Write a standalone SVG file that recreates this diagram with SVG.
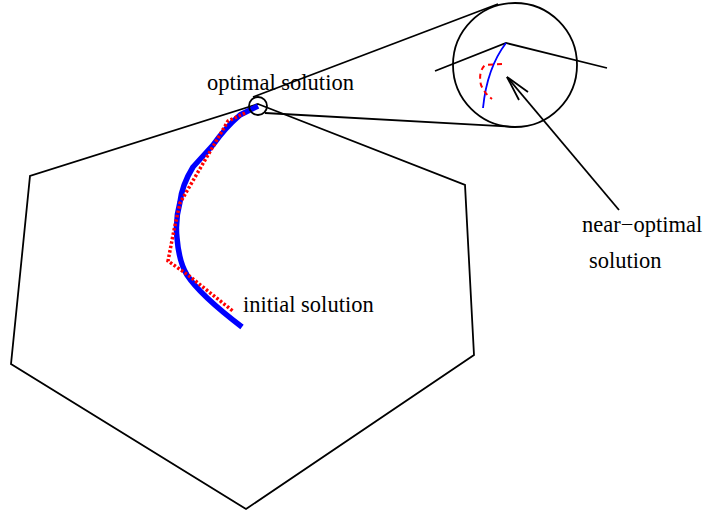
<svg xmlns="http://www.w3.org/2000/svg" width="705" height="515" viewBox="0 0 705 515">
<style>
.k{fill:none;stroke:#000;stroke-width:1.8;stroke-linejoin:miter}
.t{font-family:"Liberation Serif","Times New Roman",serif;font-size:22.5px;fill:#000}
</style>
<rect width="705" height="515" fill="#fff"/>
<g id="polytope">
<polygon class="k" points="258,104 465,185 474,355 246,509 11,364 30,176"/>
</g>
<g id="paths">
<path d="M258,106 L240,115 Q225,128 213,145 L193,167 Q182,185 180,202 Q175,220 177,238 Q179,262 187,275 Q200,295 242,327" fill="none" stroke="#0000ff" stroke-width="5.5" stroke-linejoin="round"/>
<polyline points="245,113 228,121 218,138 198,172 180,203 174,230 168,261 188,275 234,312" fill="none" stroke="#ff0000" stroke-width="3.5" stroke-dasharray="2.5,2"/>
</g>
<g id="magnifier">
<circle class="k" cx="258" cy="106" r="9"/>
<circle class="k" cx="515" cy="65" r="62"/>
<line class="k" x1="253" y1="97" x2="498" y2="4"/>
<line class="k" x1="265" y1="113" x2="515" y2="127"/>
<polyline class="k" points="435,71 506,43 607,68"/>
<path d="M506,43 Q487,68 483,108" fill="none" stroke="#0000ff" stroke-width="1.8"/>
<path d="M502,64 L485,65 Q478,72 481,85 Q485,94 492,99" fill="none" stroke="#ff0000" stroke-width="2" stroke-dasharray="5,4"/>
</g>
<g id="connectors">
<line class="k" x1="619" y1="210" x2="507" y2="77"/>
<polyline class="k" points="528,92 507,77 519,100"/>
</g>
<g id="labels">
<text class="t" x="207" y="90">optimal solution</text>
<text class="t" x="243" y="311.5">initial solution</text>
<text class="t" x="582" y="231.5">near−optimal</text>
<text class="t" x="589" y="268">solution</text>
</g>
</svg>
